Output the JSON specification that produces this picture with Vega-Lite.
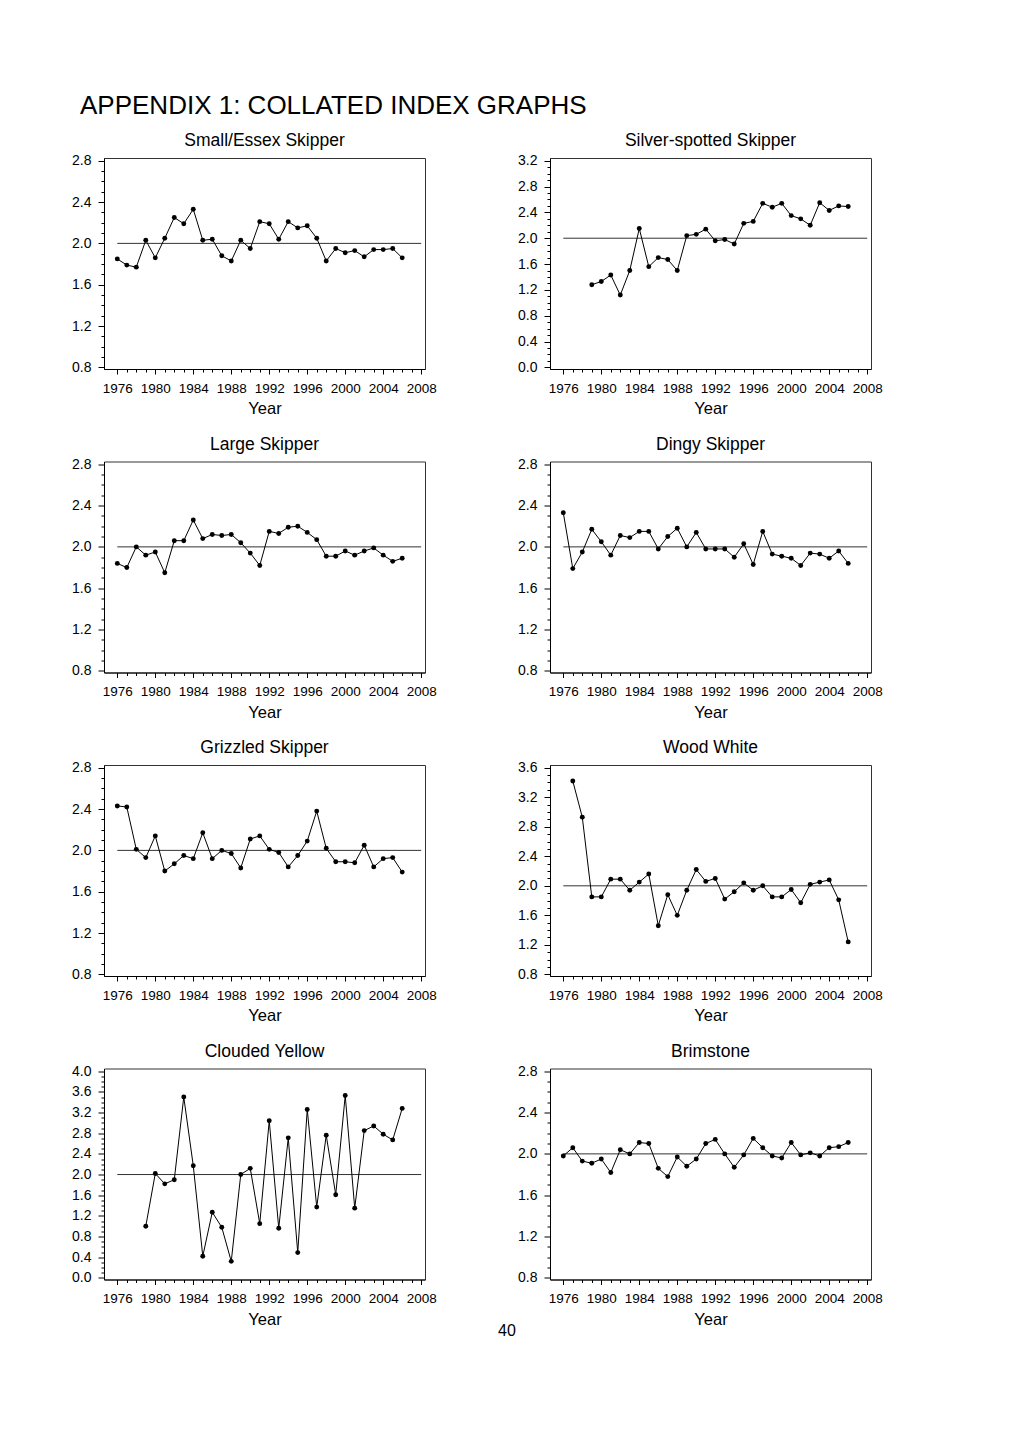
{
  "$schema": "https://vega.github.io/schema/vega-lite/v6.json",
  "padding": {"left": 71, "top": 92, "right": 5, "bottom": 5},
  "title": {"text": "APPENDIX 1: COLLATED INDEX GRAPHS", "anchor": "start", "frame": "group", "fontSize": 26, "offset": 13, "dx": -24},
  "config": {
    "font": "Liberation Sans",
    "view": {"stroke": "#333333", "strokeWidth": 1},
    "axis": {"grid": false, "domainColor": "#000000", "tickColor": "#000000", "labelColor": "#000000", "labelFontSize": 13.5, "titleColor": "#000000", "titleFontWeight": "normal", "titleFontSize": 16.5, "domainWidth": 1, "tickWidth": 1},
    "axisY": {"labelFontSize": 14},
    "title": {"fontSize": 17.5, "fontWeight": "normal", "color": "#000000", "offset": 4}
  },
  "datasets": {
    "ref": [{"year": 1976, "year2": 2008, "index": 2}],
    "small": [
      {"year": 1976, "index": 1.85}, {"year": 1977, "index": 1.79}, {"year": 1978, "index": 1.77}, {"year": 1979, "index": 2.03}, {"year": 1980, "index": 1.86}, {"year": 1981, "index": 2.05}, {"year": 1982, "index": 2.25}, {"year": 1983, "index": 2.19}, {"year": 1984, "index": 2.33}, {"year": 1985, "index": 2.03}, {"year": 1986, "index": 2.04}, {"year": 1987, "index": 1.88}, {"year": 1988, "index": 1.83}, {"year": 1989, "index": 2.03}, {"year": 1990, "index": 1.95}, {"year": 1991, "index": 2.21}, {"year": 1992, "index": 2.19}, {"year": 1993, "index": 2.04}, {"year": 1994, "index": 2.21}, {"year": 1995, "index": 2.15}, {"year": 1996, "index": 2.17}, {"year": 1997, "index": 2.05}, {"year": 1998, "index": 1.83}, {"year": 1999, "index": 1.95}, {"year": 2000, "index": 1.91}, {"year": 2001, "index": 1.93}, {"year": 2002, "index": 1.87}, {"year": 2003, "index": 1.94}, {"year": 2004, "index": 1.94}, {"year": 2005, "index": 1.95}, {"year": 2006, "index": 1.86}
    ],
    "silver": [
      {"year": 1979, "index": 1.28}, {"year": 1980, "index": 1.33}, {"year": 1981, "index": 1.43}, {"year": 1982, "index": 1.12}, {"year": 1983, "index": 1.5}, {"year": 1984, "index": 2.15}, {"year": 1985, "index": 1.56}, {"year": 1986, "index": 1.7}, {"year": 1987, "index": 1.67}, {"year": 1988, "index": 1.5}, {"year": 1989, "index": 2.04}, {"year": 1990, "index": 2.06}, {"year": 1991, "index": 2.14}, {"year": 1992, "index": 1.96}, {"year": 1993, "index": 1.98}, {"year": 1994, "index": 1.91}, {"year": 1995, "index": 2.23}, {"year": 1996, "index": 2.26}, {"year": 1997, "index": 2.54}, {"year": 1998, "index": 2.48}, {"year": 1999, "index": 2.54}, {"year": 2000, "index": 2.35}, {"year": 2001, "index": 2.3}, {"year": 2002, "index": 2.2}, {"year": 2003, "index": 2.55}, {"year": 2004, "index": 2.43}, {"year": 2005, "index": 2.5}, {"year": 2006, "index": 2.49}
    ],
    "large": [
      {"year": 1976, "index": 1.84}, {"year": 1977, "index": 1.8}, {"year": 1978, "index": 2.0}, {"year": 1979, "index": 1.92}, {"year": 1980, "index": 1.95}, {"year": 1981, "index": 1.75}, {"year": 1982, "index": 2.06}, {"year": 1983, "index": 2.06}, {"year": 1984, "index": 2.26}, {"year": 1985, "index": 2.08}, {"year": 1986, "index": 2.12}, {"year": 1987, "index": 2.11}, {"year": 1988, "index": 2.12}, {"year": 1989, "index": 2.04}, {"year": 1990, "index": 1.94}, {"year": 1991, "index": 1.82}, {"year": 1992, "index": 2.15}, {"year": 1993, "index": 2.13}, {"year": 1994, "index": 2.19}, {"year": 1995, "index": 2.2}, {"year": 1996, "index": 2.14}, {"year": 1997, "index": 2.07}, {"year": 1998, "index": 1.91}, {"year": 1999, "index": 1.91}, {"year": 2000, "index": 1.96}, {"year": 2001, "index": 1.92}, {"year": 2002, "index": 1.96}, {"year": 2003, "index": 1.99}, {"year": 2004, "index": 1.92}, {"year": 2005, "index": 1.86}, {"year": 2006, "index": 1.89}
    ],
    "dingy": [
      {"year": 1976, "index": 2.33}, {"year": 1977, "index": 1.79}, {"year": 1978, "index": 1.95}, {"year": 1979, "index": 2.17}, {"year": 1980, "index": 2.05}, {"year": 1981, "index": 1.92}, {"year": 1982, "index": 2.11}, {"year": 1983, "index": 2.09}, {"year": 1984, "index": 2.15}, {"year": 1985, "index": 2.15}, {"year": 1986, "index": 1.98}, {"year": 1987, "index": 2.1}, {"year": 1988, "index": 2.18}, {"year": 1989, "index": 2.0}, {"year": 1990, "index": 2.14}, {"year": 1991, "index": 1.98}, {"year": 1992, "index": 1.98}, {"year": 1993, "index": 1.98}, {"year": 1994, "index": 1.9}, {"year": 1995, "index": 2.03}, {"year": 1996, "index": 1.83}, {"year": 1997, "index": 2.15}, {"year": 1998, "index": 1.93}, {"year": 1999, "index": 1.91}, {"year": 2000, "index": 1.89}, {"year": 2001, "index": 1.82}, {"year": 2002, "index": 1.94}, {"year": 2003, "index": 1.93}, {"year": 2004, "index": 1.89}, {"year": 2005, "index": 1.96}, {"year": 2006, "index": 1.84}
    ],
    "grizzled": [
      {"year": 1976, "index": 2.43}, {"year": 1977, "index": 2.42}, {"year": 1978, "index": 2.01}, {"year": 1979, "index": 1.93}, {"year": 1980, "index": 2.14}, {"year": 1981, "index": 1.8}, {"year": 1982, "index": 1.87}, {"year": 1983, "index": 1.95}, {"year": 1984, "index": 1.92}, {"year": 1985, "index": 2.17}, {"year": 1986, "index": 1.92}, {"year": 1987, "index": 2.0}, {"year": 1988, "index": 1.97}, {"year": 1989, "index": 1.83}, {"year": 1990, "index": 2.11}, {"year": 1991, "index": 2.14}, {"year": 1992, "index": 2.01}, {"year": 1993, "index": 1.98}, {"year": 1994, "index": 1.84}, {"year": 1995, "index": 1.95}, {"year": 1996, "index": 2.09}, {"year": 1997, "index": 2.38}, {"year": 1998, "index": 2.02}, {"year": 1999, "index": 1.89}, {"year": 2000, "index": 1.89}, {"year": 2001, "index": 1.88}, {"year": 2002, "index": 2.05}, {"year": 2003, "index": 1.84}, {"year": 2004, "index": 1.92}, {"year": 2005, "index": 1.93}, {"year": 2006, "index": 1.79}
    ],
    "wood": [
      {"year": 1977, "index": 3.42}, {"year": 1978, "index": 2.93}, {"year": 1979, "index": 1.85}, {"year": 1980, "index": 1.85}, {"year": 1981, "index": 2.09}, {"year": 1982, "index": 2.09}, {"year": 1983, "index": 1.94}, {"year": 1984, "index": 2.05}, {"year": 1985, "index": 2.16}, {"year": 1986, "index": 1.46}, {"year": 1987, "index": 1.88}, {"year": 1988, "index": 1.6}, {"year": 1989, "index": 1.94}, {"year": 1990, "index": 2.22}, {"year": 1991, "index": 2.06}, {"year": 1992, "index": 2.1}, {"year": 1993, "index": 1.82}, {"year": 1994, "index": 1.92}, {"year": 1995, "index": 2.04}, {"year": 1996, "index": 1.94}, {"year": 1997, "index": 2.0}, {"year": 1998, "index": 1.85}, {"year": 1999, "index": 1.85}, {"year": 2000, "index": 1.95}, {"year": 2001, "index": 1.77}, {"year": 2002, "index": 2.02}, {"year": 2003, "index": 2.05}, {"year": 2004, "index": 2.08}, {"year": 2005, "index": 1.81}, {"year": 2006, "index": 1.24}
    ],
    "clouded": [
      {"year": 1979, "index": 1.0}, {"year": 1980, "index": 2.02}, {"year": 1981, "index": 1.82}, {"year": 1982, "index": 1.9}, {"year": 1983, "index": 3.5}, {"year": 1984, "index": 2.17}, {"year": 1985, "index": 0.42}, {"year": 1986, "index": 1.27}, {"year": 1987, "index": 0.98}, {"year": 1988, "index": 0.32}, {"year": 1989, "index": 2.0}, {"year": 1990, "index": 2.12}, {"year": 1991, "index": 1.05}, {"year": 1992, "index": 3.04}, {"year": 1993, "index": 0.96}, {"year": 1994, "index": 2.71}, {"year": 1995, "index": 0.49}, {"year": 1996, "index": 3.26}, {"year": 1997, "index": 1.37}, {"year": 1998, "index": 2.76}, {"year": 1999, "index": 1.61}, {"year": 2000, "index": 3.53}, {"year": 2001, "index": 1.35}, {"year": 2002, "index": 2.85}, {"year": 2003, "index": 2.94}, {"year": 2004, "index": 2.78}, {"year": 2005, "index": 2.67}, {"year": 2006, "index": 3.28}
    ],
    "brimstone": [
      {"year": 1976, "index": 1.98}, {"year": 1977, "index": 2.06}, {"year": 1978, "index": 1.93}, {"year": 1979, "index": 1.91}, {"year": 1980, "index": 1.95}, {"year": 1981, "index": 1.82}, {"year": 1982, "index": 2.04}, {"year": 1983, "index": 2.0}, {"year": 1984, "index": 2.11}, {"year": 1985, "index": 2.1}, {"year": 1986, "index": 1.86}, {"year": 1987, "index": 1.78}, {"year": 1988, "index": 1.97}, {"year": 1989, "index": 1.88}, {"year": 1990, "index": 1.95}, {"year": 1991, "index": 2.1}, {"year": 1992, "index": 2.14}, {"year": 1993, "index": 2.0}, {"year": 1994, "index": 1.87}, {"year": 1995, "index": 1.99}, {"year": 1996, "index": 2.15}, {"year": 1997, "index": 2.06}, {"year": 1998, "index": 1.98}, {"year": 1999, "index": 1.96}, {"year": 2000, "index": 2.11}, {"year": 2001, "index": 1.99}, {"year": 2002, "index": 2.01}, {"year": 2003, "index": 1.98}, {"year": 2004, "index": 2.06}, {"year": 2005, "index": 2.07}, {"year": 2006, "index": 2.11}
    ]
  },
  "vconcat": [
    {
      "title": {"text": "40", "orient": "bottom", "anchor": "middle", "frame": "group", "fontSize": 16, "offset": 0, "dx": 403, "dy": -5},
      "columns": 2,
      "bounds": "flush",
      "spacing": {"row": 92.5, "column": 125},
      "concat": [
        {
          "title": "Small/Essex Skipper",
          "width": 321, "height": 211,
          "encoding": {
            "x": {"field": "year", "type": "quantitative", "title": "Year", "scale": {"domain": [1974.6, 2008.4], "nice": false, "zero": false},
              "axis": {"values": [1976,1977,1978,1979,1980,1981,1982,1983,1984,1985,1986,1987,1988,1989,1990,1991,1992,1993,1994,1995,1996,1997,1998,1999,2000,2001,2002,2003,2004,2005,2006,2007,2008], "format": "d", "labelExpr": "datum.value % 4 === 0 ? datum.label : ''", "tickSize": {"condition": {"test": "datum.value % 4 === 0", "value": 5}, "value": 3}, "labelPadding": 7, "titlePadding": 6, "labelFlush": false, "labelOverlap": false, "labelBound": false}},
            "y": {"field": "index", "type": "quantitative", "title": null, "scale": {"domain": [0.7845, 2.8261], "nice": false, "zero": false},
              "axis": {"values": [0.8,0.9,1.0,1.1,1.2,1.3,1.4,1.5,1.6,1.7,1.8,1.9,2.0,2.1,2.2,2.3,2.4,2.5,2.6,2.7,2.8], "format": ".1f", "labelExpr": "round(datum.value*10) % 4 === 0 ? datum.label : ''", "tickSize": {"condition": {"test": "round(datum.value*10) % 4 === 0", "value": 6}, "value": 3}, "labelPadding": 7, "labelFlush": false, "labelOverlap": false, "labelBound": false}}
          },
          "layer": [
            {"data": {"name": "ref"}, "mark": {"type": "rule", "color": "#333333", "strokeWidth": 1}, "encoding": {"x2": {"field": "year2"}}},
            {"data": {"name": "small"}, "mark": {"type": "line", "color": "#000000", "strokeWidth": 1}, "encoding": {}},
            {"data": {"name": "small"}, "mark": {"type": "point", "filled": true, "color": "#000000", "opacity": 1, "size": 24}, "encoding": {}}
          ]
        },
        {
          "title": "Silver-spotted Skipper",
          "width": 321, "height": 211,
          "encoding": {
            "x": {"field": "year", "type": "quantitative", "title": "Year", "scale": {"domain": [1974.6, 2008.4], "nice": false, "zero": false},
              "axis": {"values": [1976,1977,1978,1979,1980,1981,1982,1983,1984,1985,1986,1987,1988,1989,1990,1991,1992,1993,1994,1995,1996,1997,1998,1999,2000,2001,2002,2003,2004,2005,2006,2007,2008], "format": "d", "labelExpr": "datum.value % 4 === 0 ? datum.label : ''", "tickSize": {"condition": {"test": "datum.value % 4 === 0", "value": 5}, "value": 3}, "labelPadding": 7, "titlePadding": 6, "labelFlush": false, "labelOverlap": false, "labelBound": false}},
            "y": {"field": "index", "type": "quantitative", "title": null, "scale": {"domain": [-0.0248, 3.2418], "nice": false, "zero": false},
              "axis": {"values": [0.0,0.1,0.2,0.3,0.4,0.5,0.6,0.7,0.8,0.9,1.0,1.1,1.2,1.3,1.4,1.5,1.6,1.7,1.8,1.9,2.0,2.1,2.2,2.3,2.4,2.5,2.6,2.7,2.8,2.9,3.0,3.1,3.2], "format": ".1f", "labelExpr": "round(datum.value*10) % 4 === 0 ? datum.label : ''", "tickSize": {"condition": {"test": "round(datum.value*10) % 4 === 0", "value": 6}, "value": 3}, "labelPadding": 7, "labelFlush": false, "labelOverlap": false, "labelBound": false}}
          },
          "layer": [
            {"data": {"name": "ref"}, "mark": {"type": "rule", "color": "#333333", "strokeWidth": 1}, "encoding": {"x2": {"field": "year2"}}},
            {"data": {"name": "silver"}, "mark": {"type": "line", "color": "#000000", "strokeWidth": 1}, "encoding": {}},
            {"data": {"name": "silver"}, "mark": {"type": "point", "filled": true, "color": "#000000", "opacity": 1, "size": 24}, "encoding": {}}
          ]
        },
        {
          "title": "Large Skipper",
          "width": 321, "height": 211,
          "encoding": {
            "x": {"field": "year", "type": "quantitative", "title": "Year", "scale": {"domain": [1974.6, 2008.4], "nice": false, "zero": false},
              "axis": {"values": [1976,1977,1978,1979,1980,1981,1982,1983,1984,1985,1986,1987,1988,1989,1990,1991,1992,1993,1994,1995,1996,1997,1998,1999,2000,2001,2002,2003,2004,2005,2006,2007,2008], "format": "d", "labelExpr": "datum.value % 4 === 0 ? datum.label : ''", "tickSize": {"condition": {"test": "datum.value % 4 === 0", "value": 5}, "value": 3}, "labelPadding": 7, "titlePadding": 6, "labelFlush": false, "labelOverlap": false, "labelBound": false}},
            "y": {"field": "index", "type": "quantitative", "title": null, "scale": {"domain": [0.7845, 2.8261], "nice": false, "zero": false},
              "axis": {"values": [0.8,0.9,1.0,1.1,1.2,1.3,1.4,1.5,1.6,1.7,1.8,1.9,2.0,2.1,2.2,2.3,2.4,2.5,2.6,2.7,2.8], "format": ".1f", "labelExpr": "round(datum.value*10) % 4 === 0 ? datum.label : ''", "tickSize": {"condition": {"test": "round(datum.value*10) % 4 === 0", "value": 6}, "value": 3}, "labelPadding": 7, "labelFlush": false, "labelOverlap": false, "labelBound": false}}
          },
          "layer": [
            {"data": {"name": "ref"}, "mark": {"type": "rule", "color": "#333333", "strokeWidth": 1}, "encoding": {"x2": {"field": "year2"}}},
            {"data": {"name": "large"}, "mark": {"type": "line", "color": "#000000", "strokeWidth": 1}, "encoding": {}},
            {"data": {"name": "large"}, "mark": {"type": "point", "filled": true, "color": "#000000", "opacity": 1, "size": 24}, "encoding": {}}
          ]
        },
        {
          "title": "Dingy Skipper",
          "width": 321, "height": 211,
          "encoding": {
            "x": {"field": "year", "type": "quantitative", "title": "Year", "scale": {"domain": [1974.6, 2008.4], "nice": false, "zero": false},
              "axis": {"values": [1976,1977,1978,1979,1980,1981,1982,1983,1984,1985,1986,1987,1988,1989,1990,1991,1992,1993,1994,1995,1996,1997,1998,1999,2000,2001,2002,2003,2004,2005,2006,2007,2008], "format": "d", "labelExpr": "datum.value % 4 === 0 ? datum.label : ''", "tickSize": {"condition": {"test": "datum.value % 4 === 0", "value": 5}, "value": 3}, "labelPadding": 7, "titlePadding": 6, "labelFlush": false, "labelOverlap": false, "labelBound": false}},
            "y": {"field": "index", "type": "quantitative", "title": null, "scale": {"domain": [0.7845, 2.8261], "nice": false, "zero": false},
              "axis": {"values": [0.8,0.9,1.0,1.1,1.2,1.3,1.4,1.5,1.6,1.7,1.8,1.9,2.0,2.1,2.2,2.3,2.4,2.5,2.6,2.7,2.8], "format": ".1f", "labelExpr": "round(datum.value*10) % 4 === 0 ? datum.label : ''", "tickSize": {"condition": {"test": "round(datum.value*10) % 4 === 0", "value": 6}, "value": 3}, "labelPadding": 7, "labelFlush": false, "labelOverlap": false, "labelBound": false}}
          },
          "layer": [
            {"data": {"name": "ref"}, "mark": {"type": "rule", "color": "#333333", "strokeWidth": 1}, "encoding": {"x2": {"field": "year2"}}},
            {"data": {"name": "dingy"}, "mark": {"type": "line", "color": "#000000", "strokeWidth": 1}, "encoding": {}},
            {"data": {"name": "dingy"}, "mark": {"type": "point", "filled": true, "color": "#000000", "opacity": 1, "size": 24}, "encoding": {}}
          ]
        },
        {
          "title": "Grizzled Skipper",
          "width": 321, "height": 211,
          "encoding": {
            "x": {"field": "year", "type": "quantitative", "title": "Year", "scale": {"domain": [1974.6, 2008.4], "nice": false, "zero": false},
              "axis": {"values": [1976,1977,1978,1979,1980,1981,1982,1983,1984,1985,1986,1987,1988,1989,1990,1991,1992,1993,1994,1995,1996,1997,1998,1999,2000,2001,2002,2003,2004,2005,2006,2007,2008], "format": "d", "labelExpr": "datum.value % 4 === 0 ? datum.label : ''", "tickSize": {"condition": {"test": "datum.value % 4 === 0", "value": 5}, "value": 3}, "labelPadding": 7, "titlePadding": 6, "labelFlush": false, "labelOverlap": false, "labelBound": false}},
            "y": {"field": "index", "type": "quantitative", "title": null, "scale": {"domain": [0.7845, 2.8261], "nice": false, "zero": false},
              "axis": {"values": [0.8,0.9,1.0,1.1,1.2,1.3,1.4,1.5,1.6,1.7,1.8,1.9,2.0,2.1,2.2,2.3,2.4,2.5,2.6,2.7,2.8], "format": ".1f", "labelExpr": "round(datum.value*10) % 4 === 0 ? datum.label : ''", "tickSize": {"condition": {"test": "round(datum.value*10) % 4 === 0", "value": 6}, "value": 3}, "labelPadding": 7, "labelFlush": false, "labelOverlap": false, "labelBound": false}}
          },
          "layer": [
            {"data": {"name": "ref"}, "mark": {"type": "rule", "color": "#333333", "strokeWidth": 1}, "encoding": {"x2": {"field": "year2"}}},
            {"data": {"name": "grizzled"}, "mark": {"type": "line", "color": "#000000", "strokeWidth": 1}, "encoding": {}},
            {"data": {"name": "grizzled"}, "mark": {"type": "point", "filled": true, "color": "#000000", "opacity": 1, "size": 24}, "encoding": {}}
          ]
        },
        {
          "title": "Wood White",
          "width": 321, "height": 211,
          "encoding": {
            "x": {"field": "year", "type": "quantitative", "title": "Year", "scale": {"domain": [1974.6, 2008.4], "nice": false, "zero": false},
              "axis": {"values": [1976,1977,1978,1979,1980,1981,1982,1983,1984,1985,1986,1987,1988,1989,1990,1991,1992,1993,1994,1995,1996,1997,1998,1999,2000,2001,2002,2003,2004,2005,2006,2007,2008], "format": "d", "labelExpr": "datum.value % 4 === 0 ? datum.label : ''", "tickSize": {"condition": {"test": "datum.value % 4 === 0", "value": 5}, "value": 3}, "labelPadding": 7, "titlePadding": 6, "labelFlush": false, "labelOverlap": false, "labelBound": false}},
            "y": {"field": "index", "type": "quantitative", "title": null, "scale": {"domain": [0.7783, 3.6366], "nice": false, "zero": false},
              "axis": {"values": [0.8,0.9,1.0,1.1,1.2,1.3,1.4,1.5,1.6,1.7,1.8,1.9,2.0,2.1,2.2,2.3,2.4,2.5,2.6,2.7,2.8,2.9,3.0,3.1,3.2,3.3,3.4,3.5,3.6], "format": ".1f", "labelExpr": "round(datum.value*10) % 4 === 0 ? datum.label : ''", "tickSize": {"condition": {"test": "round(datum.value*10) % 4 === 0", "value": 6}, "value": 3}, "labelPadding": 7, "labelFlush": false, "labelOverlap": false, "labelBound": false}}
          },
          "layer": [
            {"data": {"name": "ref"}, "mark": {"type": "rule", "color": "#333333", "strokeWidth": 1}, "encoding": {"x2": {"field": "year2"}}},
            {"data": {"name": "wood"}, "mark": {"type": "line", "color": "#000000", "strokeWidth": 1}, "encoding": {}},
            {"data": {"name": "wood"}, "mark": {"type": "point", "filled": true, "color": "#000000", "opacity": 1, "size": 24}, "encoding": {}}
          ]
        },
        {
          "title": "Clouded Yellow",
          "width": 321, "height": 211,
          "encoding": {
            "x": {"field": "year", "type": "quantitative", "title": "Year", "scale": {"domain": [1974.6, 2008.4], "nice": false, "zero": false},
              "axis": {"values": [1976,1977,1978,1979,1980,1981,1982,1983,1984,1985,1986,1987,1988,1989,1990,1991,1992,1993,1994,1995,1996,1997,1998,1999,2000,2001,2002,2003,2004,2005,2006,2007,2008], "format": "d", "labelExpr": "datum.value % 4 === 0 ? datum.label : ''", "tickSize": {"condition": {"test": "datum.value % 4 === 0", "value": 5}, "value": 3}, "labelPadding": 7, "titlePadding": 6, "labelFlush": false, "labelOverlap": false, "labelBound": false}},
            "y": {"field": "index", "type": "quantitative", "title": null, "scale": {"domain": [-0.031, 4.052], "nice": false, "zero": false},
              "axis": {"values": [0.0,0.1,0.2,0.3,0.4,0.5,0.6,0.7,0.8,0.9,1.0,1.1,1.2,1.3,1.4,1.5,1.6,1.7,1.8,1.9,2.0,2.1,2.2,2.3,2.4,2.5,2.6,2.7,2.8,2.9,3.0,3.1,3.2,3.3,3.4,3.5,3.6,3.7,3.8,3.9,4.0], "format": ".1f", "labelExpr": "round(datum.value*10) % 4 === 0 ? datum.label : ''", "tickSize": {"condition": {"test": "round(datum.value*10) % 4 === 0", "value": 6}, "value": 3}, "labelPadding": 7, "labelFlush": false, "labelOverlap": false, "labelBound": false}}
          },
          "layer": [
            {"data": {"name": "ref"}, "mark": {"type": "rule", "color": "#333333", "strokeWidth": 1}, "encoding": {"x2": {"field": "year2"}}},
            {"data": {"name": "clouded"}, "mark": {"type": "line", "color": "#000000", "strokeWidth": 1}, "encoding": {}},
            {"data": {"name": "clouded"}, "mark": {"type": "point", "filled": true, "color": "#000000", "opacity": 1, "size": 24}, "encoding": {}}
          ]
        },
        {
          "title": "Brimstone",
          "width": 321, "height": 211,
          "encoding": {
            "x": {"field": "year", "type": "quantitative", "title": "Year", "scale": {"domain": [1974.6, 2008.4], "nice": false, "zero": false},
              "axis": {"values": [1976,1977,1978,1979,1980,1981,1982,1983,1984,1985,1986,1987,1988,1989,1990,1991,1992,1993,1994,1995,1996,1997,1998,1999,2000,2001,2002,2003,2004,2005,2006,2007,2008], "format": "d", "labelExpr": "datum.value % 4 === 0 ? datum.label : ''", "tickSize": {"condition": {"test": "datum.value % 4 === 0", "value": 5}, "value": 3}, "labelPadding": 7, "titlePadding": 6, "labelFlush": false, "labelOverlap": false, "labelBound": false}},
            "y": {"field": "index", "type": "quantitative", "title": null, "scale": {"domain": [0.7845, 2.8261], "nice": false, "zero": false},
              "axis": {"values": [0.8,0.9,1.0,1.1,1.2,1.3,1.4,1.5,1.6,1.7,1.8,1.9,2.0,2.1,2.2,2.3,2.4,2.5,2.6,2.7,2.8], "format": ".1f", "labelExpr": "round(datum.value*10) % 4 === 0 ? datum.label : ''", "tickSize": {"condition": {"test": "round(datum.value*10) % 4 === 0", "value": 6}, "value": 3}, "labelPadding": 7, "labelFlush": false, "labelOverlap": false, "labelBound": false}}
          },
          "layer": [
            {"data": {"name": "ref"}, "mark": {"type": "rule", "color": "#333333", "strokeWidth": 1}, "encoding": {"x2": {"field": "year2"}}},
            {"data": {"name": "brimstone"}, "mark": {"type": "line", "color": "#000000", "strokeWidth": 1}, "encoding": {}},
            {"data": {"name": "brimstone"}, "mark": {"type": "point", "filled": true, "color": "#000000", "opacity": 1, "size": 24}, "encoding": {}}
          ]
        }
      ]
    }
  ]
}
